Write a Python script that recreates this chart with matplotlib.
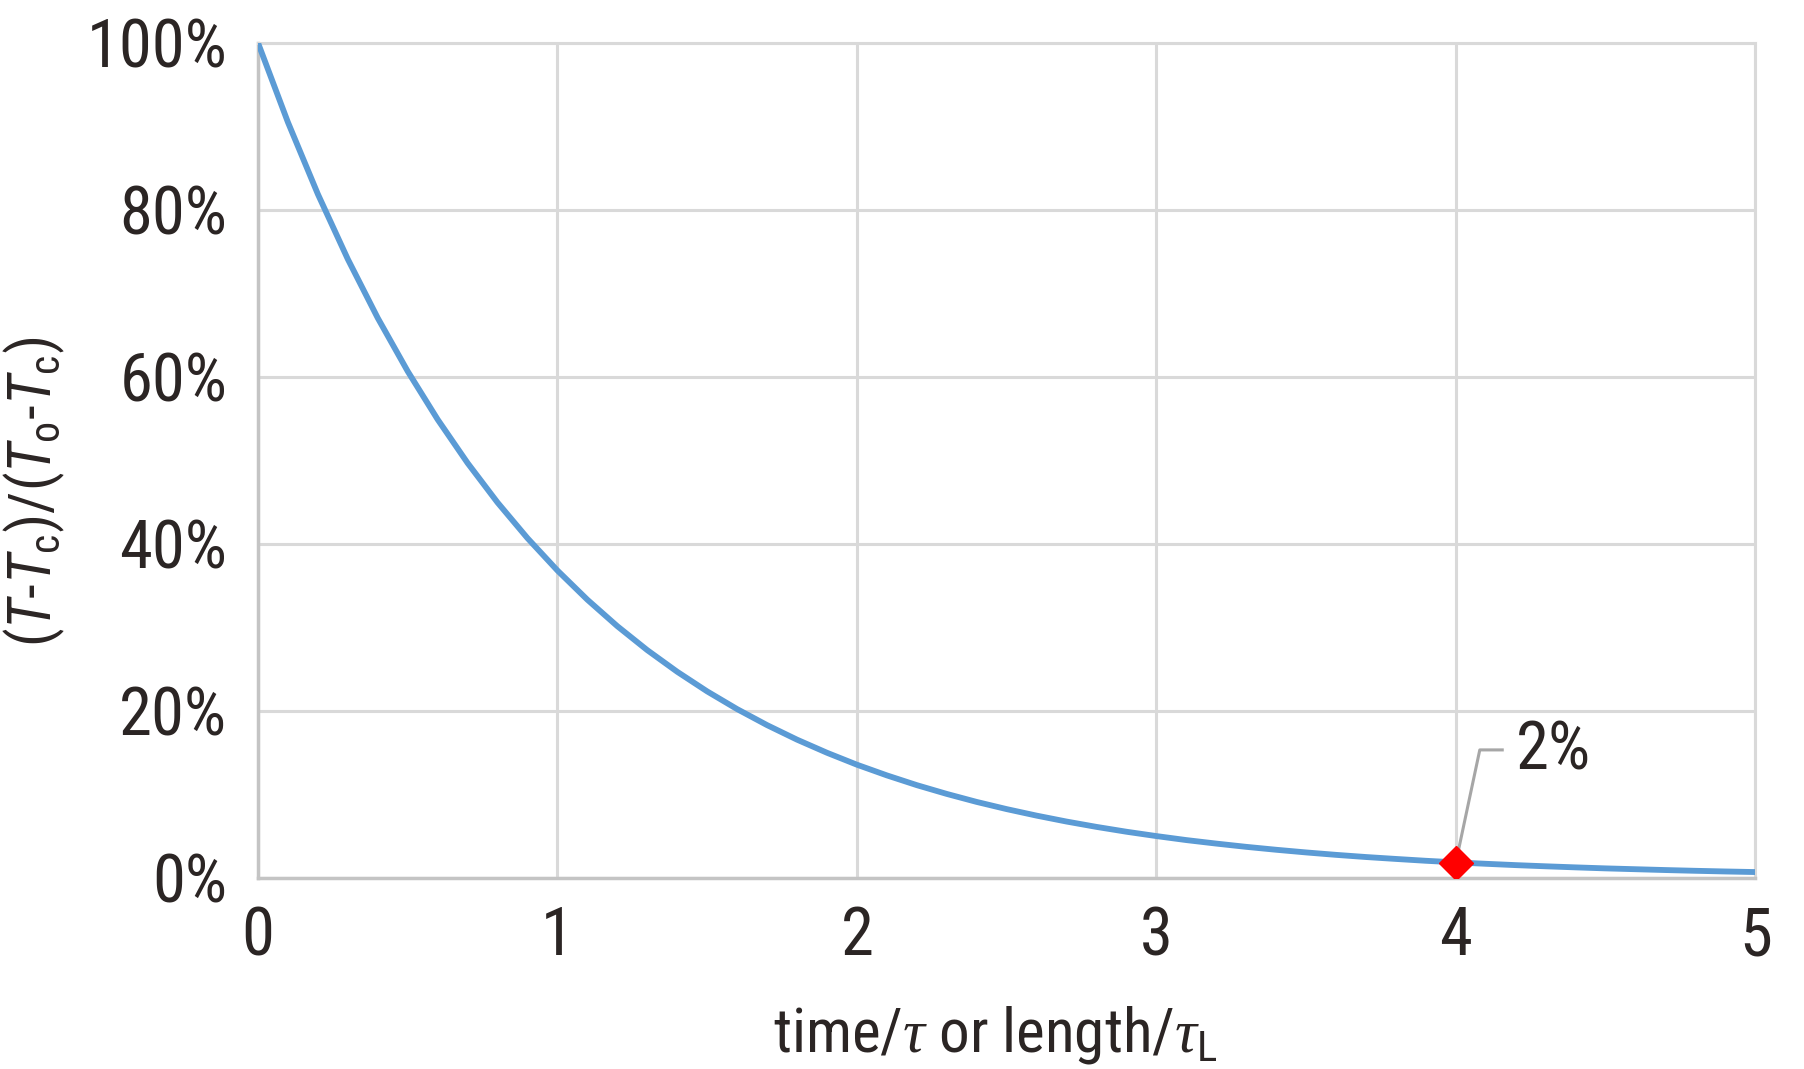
import matplotlib
matplotlib.use("Agg")
import matplotlib.pyplot as plt
from matplotlib import font_manager
from matplotlib.ticker import PercentFormatter

# values, step 0.1
x_vals = [i / 10 for i in range(51)]
y_vals = [1.0000, 0.9048, 0.8187, 0.7408, 0.6703, 0.6065, 0.5488, 0.4966, 0.4493, 0.4066,
          0.3679, 0.3329, 0.3012, 0.2725, 0.2466, 0.2231, 0.2019, 0.1827, 0.1653, 0.1496,
          0.1353, 0.1225, 0.1108, 0.1003, 0.0907, 0.0821, 0.0743, 0.0672, 0.0608, 0.0550,
          0.0498, 0.0450, 0.0408, 0.0369, 0.0334, 0.0302, 0.0273, 0.0247, 0.0224, 0.0202,
          0.0183, 0.0166, 0.0150, 0.0136, 0.0123, 0.0111, 0.0101, 0.0091, 0.0082, 0.0074,
          0.0067]
marker_x = 4
marker_y = 0.018
marker_label = "2%"
x_ticks = [0, 1, 2, 3, 4, 5]
y_ticks = [0, 0.2, 0.4, 0.6, 0.8, 1.0]

# prefer a narrow sans if one is installed
installed = {f.name for f in font_manager.fontManager.ttflist}
narrow = [n for n in ["Liberation Sans Narrow", "Arial Narrow", "Roboto Condensed",
                      "Open Sans Condensed", "DejaVu Sans Condensed"] if n in installed]
main_font = narrow[0] if narrow else "Liberation Sans"
condensed = bool(narrow)

plt.rcParams['font.family'] = [main_font, "Liberation Sans", "DejaVu Sans"]
plt.rcParams['mathtext.fontset'] = 'custom'
plt.rcParams['mathtext.rm'] = main_font
plt.rcParams['mathtext.it'] = main_font + ':italic'
plt.rcParams['mathtext.sf'] = 'Liberation Serif:italic'
TEXT = '#2b2524'

tick_fs = 48 if condensed else 43
ylab_fs = 43 if condensed else 38

fig = plt.figure(figsize=(18.04, 10.69), dpi=100)
ax = fig.add_axes([0.143, 0.179, 0.830, 0.781])

ax.plot(x_vals, y_vals, color='#5b9bd5', lw=4.2, zorder=3,
        solid_capstyle='butt', solid_joinstyle='round')
ax.plot([marker_x], [marker_y], marker='D', color='#ff0000', ms=17, zorder=4)

# leader line + label
ax.plot([marker_x, 4.08, 4.155], [marker_y, 0.153, 0.153], color='#a6a6a6', lw=2.2, zorder=3.5)
ax.text(4.2, 0.151, marker_label, fontsize=tick_fs, color=TEXT, va='center', ha='left')

ax.set_xlim(0, 5)
ax.set_ylim(0, 1)
ax.set_xticks(x_ticks)
ax.set_yticks(y_ticks)
ax.yaxis.set_major_formatter(PercentFormatter(1.0, decimals=0))
ax.tick_params(length=0, labelsize=tick_fs, labelcolor=TEXT)
ax.tick_params(axis='y', pad=22)
ax.tick_params(axis='x', pad=20)
ax.grid(True, color='#d9d9d9', lw=2.2)
ax.set_axisbelow(True)
for side in ['top', 'right']:
    ax.spines[side].set_color('#d9d9d9')
    ax.spines[side].set_linewidth(2.2)
for side in ['left', 'bottom']:
    ax.spines[side].set_color('#c4c4c4')
    ax.spines[side].set_linewidth(2.5)

fig.text(0.552, 0.032,
         r'time/$\mathsf{\tau}$ or length/$\mathsf{\tau}_{\rm L}$',
         fontsize=44, color=TEXT, ha='center', va='center')
fig.text(0.019, 0.54, r'($T$-$T_{\rm c}$)/($T_{\rm o}$-$T_{\rm c}$)',
         fontsize=ylab_fs, color=TEXT, ha='center', va='center', rotation=90)

fig.savefig('out.png', dpi=100)
